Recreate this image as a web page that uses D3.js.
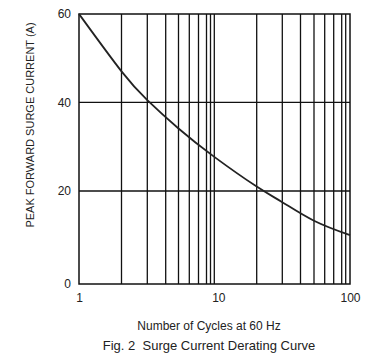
<!DOCTYPE html>
<html>
<head>
<meta charset="utf-8">
<script src="https://cdn.jsdelivr.net/npm/d3@7"></script>
<style>
body { margin: 0; background: #fff; }
text { font-family: "Liberation Sans", Arial, sans-serif; fill: #222; }
</style>
</head>
<body>
<div id="app"></div>
<script>
// curve: cycles vs peak surge current (A)
var cycles = [1, 2, 3, 5, 10, 20, 30, 50, 100];
var current = [60, 47.0, 40.5, 34.1, 27.7, 21.0, 17.6, 13.6, 10.5];
var xTicks = [1, 10, 100];
var yTicks = [0, 20, 40, 60];
var yTitle = "PEAK FORWARD SURGE CURRENT (A)";
var xTitle = "Number of Cycles at 60 Hz";
var caption = "Fig. 2  Surge Current Derating Curve";

var width = 373, height = 358;
var mLeft = 79, mRight = 350, mTop = 14, mBottom = 284;

var svg = d3.select("#app").append("svg").attr("width", width).attr("height", height);

// log grid lines 1..10, 20..100
var grid = [];
[1, 10].forEach(function (d) { for (var k = 1; k <= 9; k++) grid.push(d * k); });
grid.push(100);

// the printed log grid is hand-spaced; calibrate the scale to where each line sits
var gridPx = [mLeft, 121.5, 147.3, 165.7, 178.5, 189.3, 198.5, 206.5, 210.5,
              214.3, 256.7, 282.3, 300.5, 314, 324.7, 333.7, 341.7, 345.7, mRight];
var xl = d3.scaleLinear().domain(grid.map(Math.log10)).range(gridPx);
var x = function (d) { return xl(Math.log10(d)); };
// same for the 20 A bands
var y = d3.scaleLinear().domain(yTicks).range([mBottom, 191, 102.3, mTop]);

svg.append("g").selectAll("line").data(grid.slice(1, -1)).enter().append("line")
  .attr("x1", function (d) { return x(d); }).attr("x2", function (d) { return x(d); })
  .attr("y1", mTop).attr("y2", mBottom)
  .attr("stroke", "#111").attr("stroke-width", 1.3);

svg.append("g").selectAll("line").data([20, 40]).enter().append("line")
  .attr("x1", mLeft).attr("x2", mRight)
  .attr("y1", function (d) { return y(d); }).attr("y2", function (d) { return y(d); })
  .attr("stroke", "#111").attr("stroke-width", 1.3);

svg.append("rect").attr("x", mLeft).attr("y", mTop)
  .attr("width", mRight - mLeft).attr("height", mBottom - mTop)
  .attr("fill", "none").attr("stroke", "#111").attr("stroke-width", 1.5);

// axes (labels only)
var xAxis = svg.append("g").attr("transform", "translate(0," + mBottom + ")")
  .call(d3.axisBottom(xl).tickValues(xTicks.map(Math.log10))
    .tickFormat(function (d) { return String(Math.round(Math.pow(10, d))); })
    .tickSize(0).tickPadding(9));
var yAxis = svg.append("g").attr("transform", "translate(" + mLeft + ",0)")
  .call(d3.axisLeft(y).tickValues(yTicks).tickSize(0).tickPadding(8));
[xAxis, yAxis].forEach(function (g) {
  g.select(".domain").remove();
  g.selectAll("text").attr("font-size", 12).attr("font-family", null).style("fill", "#222");
});
// the "10" sits a little right of its gridline in the original
xAxis.selectAll(".tick text").filter(function (d) { return d === 1; }).attr("dx", 4);

var line = d3.line()
  .x(function (d, i) { return x(cycles[i]); })
  .y(function (d) { return y(d); })
  .curve(d3.curveNatural);

svg.append("path").datum(current)
  .attr("fill", "none").attr("stroke", "#222").attr("stroke-width", 1.8)
  .attr("d", line);

svg.append("text").attr("transform", "translate(34,125) rotate(-90)")
  .attr("text-anchor", "middle").attr("font-size", 11).text(yTitle);

svg.append("text").attr("x", 209).attr("y", 330)
  .attr("text-anchor", "middle").attr("font-size", 12).text(xTitle);

svg.append("text").attr("x", 209).attr("y", 350)
  .attr("text-anchor", "middle").attr("font-size", 13)
  .style("white-space", "pre").text(caption);
</script>
</body>
</html>
